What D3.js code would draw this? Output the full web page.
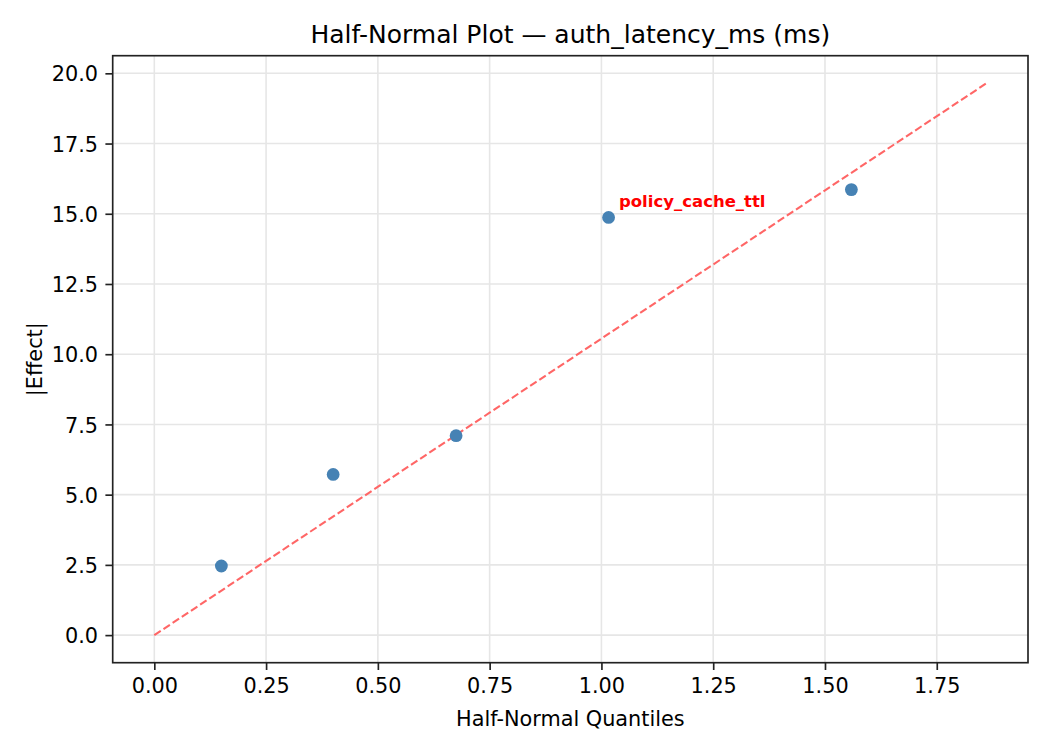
<!DOCTYPE html>
<html>
<head>
<meta charset="utf-8">
<script src="https://cdn.jsdelivr.net/npm/d3@7"></script>
<style>
  html, body { margin: 0; padding: 0; background: #fff; }
  svg { display: block; font-family: "DejaVu Sans", sans-serif; }
</style>
</head>
<body>
<svg id="chart" width="1050" height="750"></svg>
<script>
// ---- data ----
const factors   = ["f1", "f2", "f3", "policy_cache_ttl", "f5"];
const quantiles = [0.150, 0.400, 0.675, 1.016, 1.559];
const effects   = [2.46, 5.72, 7.10, 14.87, 15.86];
const refLineX  = [0, 1.861];
const refLineY  = [0, 19.645];
const labeled   = ["policy_cache_ttl"];
const xTicks    = [0, 0.25, 0.5, 0.75, 1.0, 1.25, 1.5, 1.75];
const yTicks    = [0, 2.5, 5, 7.5, 10, 12.5, 15, 17.5, 20];
const titleText = "Half-Normal Plot \u2014 auth_latency_ms (ms)";
const xLabel    = "Half-Normal Quantiles";
const yLabel    = "|Effect|";

// ---- layout ----
const L = 112.7, R = 1028, T = 55.7, B = 662.7;
const svg = d3.select("#chart");

const xMin = d3.min(refLineX), xMax = d3.max(refLineX);
const yMin = d3.min(refLineY), yMax = d3.max(refLineY);
const xPad = (xMax - xMin) * 0.05, yPad = (yMax - yMin) * 0.05;
const x = d3.scaleLinear().domain([xMin - xPad, xMax + xPad]).range([L, R]);
const y = d3.scaleLinear().domain([yMin - yPad, yMax + yPad]).range([B, T]);

// grid
const grid = svg.append("g");
grid.selectAll("line.gx").data(xTicks).join("line")
  .attr("x1", d => x(d)).attr("x2", d => x(d))
  .attr("y1", T).attr("y2", B)
  .attr("stroke", "#e6e6e6").attr("stroke-width", 1.6);
grid.selectAll("line.gy").data(yTicks).join("line")
  .attr("y1", d => y(d)).attr("y2", d => y(d))
  .attr("x1", L).attr("x2", R)
  .attr("stroke", "#e6e6e6").attr("stroke-width", 1.6);

// reference line
const lineData = refLineX.map((v, i) => [v, refLineY[i]]);
svg.append("path")
  .datum(lineData)
  .attr("d", d3.line().x(d => x(d[0])).y(d => y(d[1])))
  .attr("fill", "none")
  .attr("stroke", "#ff6666")
  .attr("stroke-width", 2.08)
  .attr("stroke-dasharray", "7.7,3.3");

// points
const pts = quantiles.map((q, i) => ({ q, e: effects[i], name: factors[i] }));
svg.append("g").selectAll("circle").data(pts).join("circle")
  .attr("cx", d => x(d.q)).attr("cy", d => y(d.e))
  .attr("r", 6.4)
  .attr("fill", "steelblue");

// annotation
svg.append("g").selectAll("text").data(pts.filter(d => labeled.includes(d.name))).join("text")
  .attr("x", d => x(d.q) + 10.4)
  .attr("y", d => y(d.e) - 10.4)
  .attr("fill", "red")
  .attr("font-weight", "bold")
  .attr("font-size", 16.5)
  .text(d => d.name);

// axes
const xAxis = d3.axisBottom(x).tickValues(xTicks).tickFormat(d3.format(".2f"))
  .tickSize(7.3).tickPadding(7.3);
const yAxis = d3.axisLeft(y).tickValues(yTicks).tickFormat(d3.format(".1f"))
  .tickSize(7.3).tickPadding(7.3);

const gx = svg.append("g").attr("transform", `translate(0,${B})`).call(xAxis);
const gy = svg.append("g").attr("transform", `translate(${L},0)`).call(yAxis);
[gx, gy].forEach(g => {
  g.select(".domain").remove();
  g.selectAll(".tick line").attr("stroke", "#222").attr("stroke-width", 1.67);
  g.selectAll(".tick text").attr("fill", "#000")
    .attr("font-size", 20.8).attr("font-family", "DejaVu Sans");
});
gx.selectAll(".tick text").attr("dy", null).attr("y", null)
  .attr("transform", null)
  .attr("y", 30.6);
gy.selectAll(".tick text").attr("dy", "0.365em");

// frame
svg.append("rect")
  .attr("x", L).attr("y", T).attr("width", R - L).attr("height", B - T)
  .attr("fill", "none").attr("stroke", "#222").attr("stroke-width", 1.67);

// title & labels
svg.append("text").attr("x", (L + R) / 2).attr("y", 43)
  .attr("text-anchor", "middle").attr("font-size", 25).attr("fill", "#000")
  .text(titleText);
svg.append("text").attr("x", (L + R) / 2).attr("y", 726)
  .attr("text-anchor", "middle").attr("font-size", 20.8).attr("fill", "#000")
  .text(xLabel);
svg.append("text")
  .attr("transform", `translate(42,${(T + B) / 2}) rotate(-90)`)
  .attr("text-anchor", "middle").attr("font-size", 20.8).attr("fill", "#000")
  .text(yLabel);
</script>
</body>
</html>
